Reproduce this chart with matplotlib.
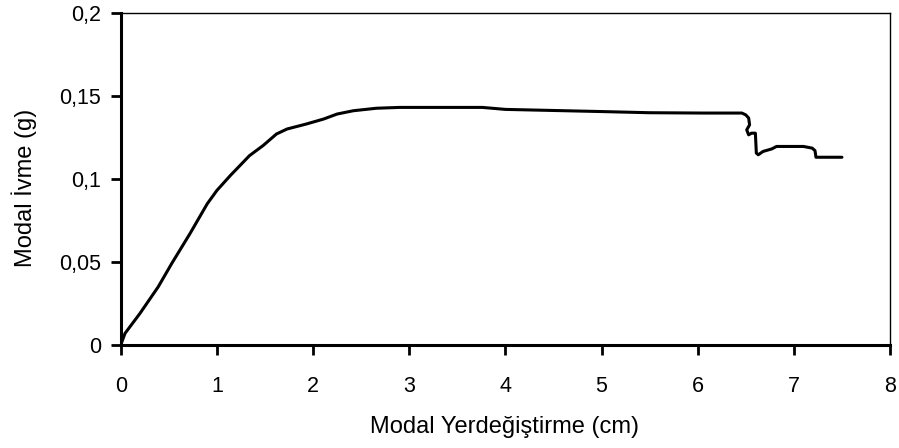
import matplotlib
matplotlib.use("Agg")
import matplotlib.pyplot as plt
from matplotlib.ticker import FuncFormatter

plt.rcParams['font.family'] = ['Liberation Sans', 'DejaVu Sans']

# Pushover capacity curve (modal displacement vs modal acceleration)
disp_cm = [0.0, 0.045, 0.20, 0.39, 0.53, 0.72, 0.90, 1.00, 1.14, 1.34, 1.48,
           1.62, 1.73, 1.93, 2.11, 2.25, 2.42, 2.66, 2.90, 3.76, 4.00, 5.00,
           5.50, 6.06, 6.46, 6.50, 6.53, 6.54, 6.51, 6.53, 6.56, 6.60, 6.61,
           6.63, 6.68, 6.77, 6.82, 7.10, 7.19, 7.22, 7.23, 7.50]
accel_g = [0.0, 0.007, 0.019, 0.035, 0.049, 0.067, 0.085, 0.093, 0.102, 0.114,
           0.120, 0.127, 0.130, 0.133, 0.136, 0.139, 0.141, 0.1425, 0.1430,
           0.1430, 0.1418, 0.1405, 0.1398, 0.1396, 0.1396, 0.1385, 0.1366,
           0.1325, 0.1295, 0.1265, 0.1275, 0.1275, 0.1155, 0.1145, 0.1165,
           0.1180, 0.1195, 0.1195, 0.1185, 0.1170, 0.1130, 0.1130]

x_ticks = [0, 1, 2, 3, 4, 5, 6, 7, 8]
y_ticks = [0, 0.05, 0.10, 0.15, 0.20]

W, H = 899, 448
fig = plt.figure(figsize=(W / 100, H / 100), dpi=100)
left_px, right_px, top_px, bottom_px = 120.7, 890.0, 12.7, 345.0
ax = fig.add_axes([left_px / W, 1 - bottom_px / H,
                   (right_px - left_px) / W, (bottom_px - top_px) / H])

ax.plot(disp_cm, accel_g, color='black', linewidth=2.2,
        solid_joinstyle='round', solid_capstyle='round')

ax.set_xlim(0, 8)
ax.set_ylim(0, 0.2)
ax.set_xticks(x_ticks)
ax.set_yticks(y_ticks)


def comma_fmt(v, pos):
    return f"{v:g}".replace('.', ',')


ax.yaxis.set_major_formatter(FuncFormatter(comma_fmt))
ax.xaxis.set_major_formatter(FuncFormatter(comma_fmt))

ax.tick_params(direction='out', length=7, width=2.0, labelsize=15.5,
               colors='black')
ax.tick_params(axis='x', pad=15)
ax.tick_params(axis='y', pad=7)

for side in ('left', 'bottom'):
    ax.spines[side].set_linewidth(2.2)
for side in ('top', 'right'):
    ax.spines[side].set_linewidth(1.0)

fig.text(504 / W, 1 - 427 / H, 'Modal Yerdeğiştirme (cm)', fontsize=17,
         ha='center', va='center')
fig.text(24 / W, 1 - 188 / H, 'Modal İvme (g)', fontsize=17,
         rotation=90, ha='center', va='center')

fig.savefig('out.png', dpi=100)
